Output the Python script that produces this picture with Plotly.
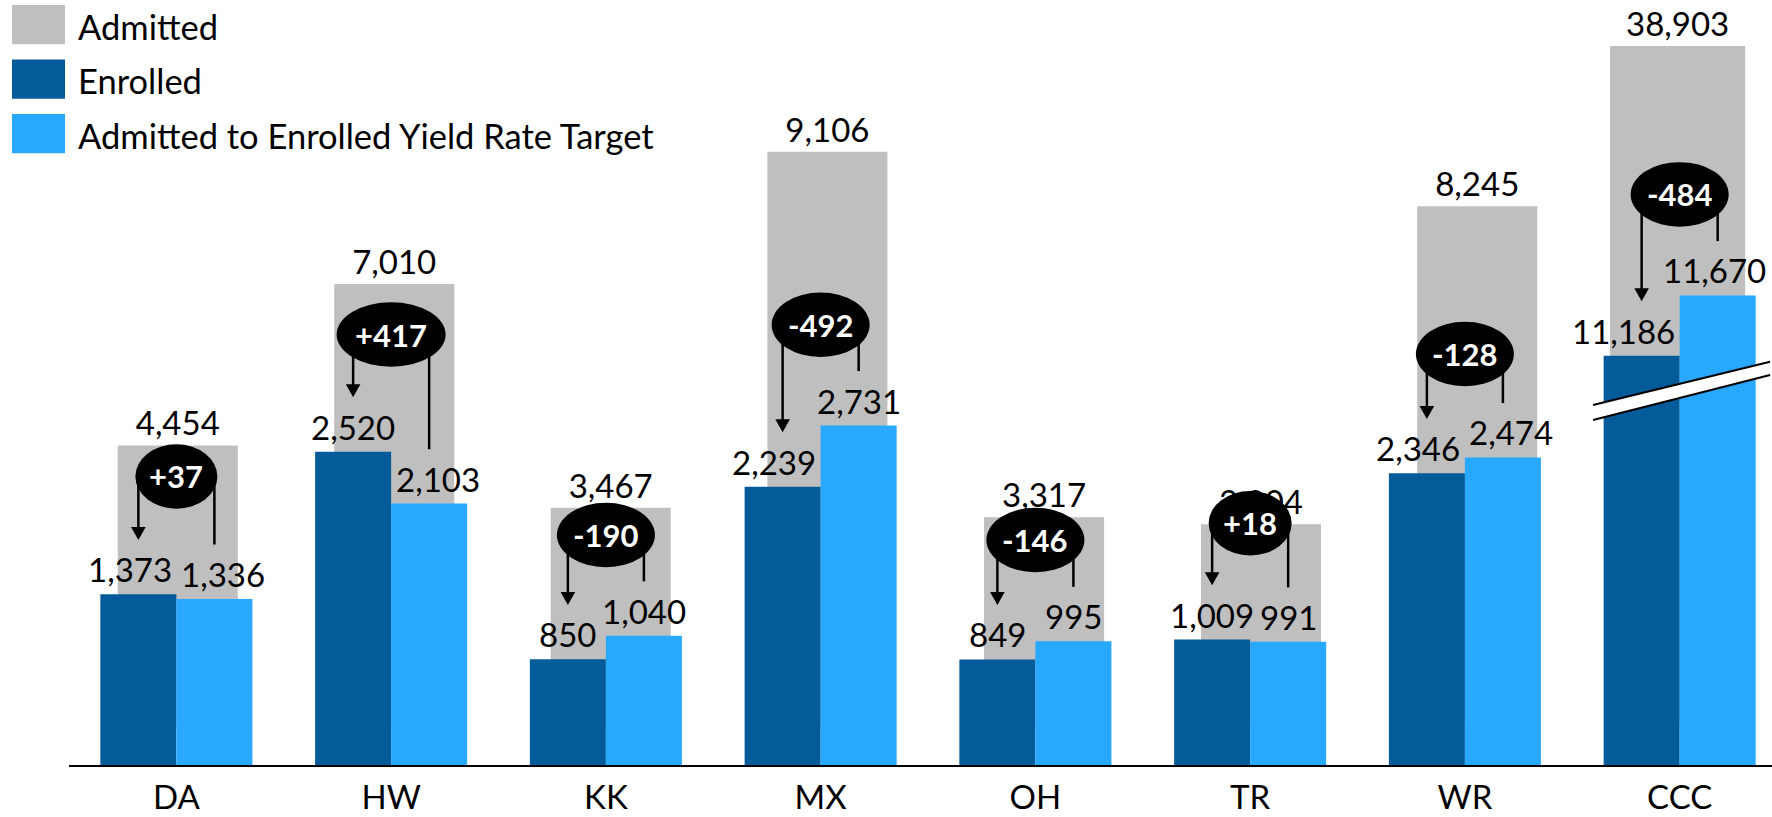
import plotly.graph_objects as go

# ---------------- data ----------------
categories = ["DA", "HW", "KK", "MX", "OH", "TR", "WR", "CCC"]
admitted = [4454, 7010, 3467, 9106, 3317, 3204, 8245, 38903]
enrolled = [1373, 2520, 850, 2239, 849, 1009, 2346, 11186]
target = [1336, 2103, 1040, 2731, 995, 991, 2474, 11670]
series_names = ["Admitted", "Enrolled", "Admitted to Enrolled Yield Rate Target"]

# broken axis on the last category (values above the cut are removed)
BREAK_IDX = 7
ENROLLED_AXIS_CUT = 7893
ADMITTED_AXIS_CUT = 28120

# ---------------- styles / layout ----------------
W, H = 1772, 817
ML, MR, MT, MB = 69, 0, 0, 52
PLOT_H = H - MT - MB
X_RANGE = [-0.5, 7.43]
Y_GRAY = [-610, 11512]
Y_BLUE = [0, 6154]
PXU_BLUE = PLOT_H / (Y_BLUE[1] - Y_BLUE[0])

C_GRAY = "#BFBFBF"
C_DARK = "#035B99"
C_LIGHT = "#29A8FF"
FONT = "Lato"
LABEL_SIZE = 33
LEGEND_SIZE = 34.5

BW = 0.354
gray_offset = [-0.273, -0.265, -0.257, -0.248, -0.239, -0.229, -0.222, -0.324]
gray_width = [0.559] * 7 + [0.629]
enr_label_dx = [-8, 0, 0, -9, 0, 0, -9, -18]
tgt_label_dx = [9, 9, 0, 0, 0, 0, 8, -3]
callout_y = [2321, 3463, 1850, 3541, 1810, 1945, 3306, 4590]
callout_w = [82, 109, 98, 98, 98, 83, 98, 98]
CALLOUT_H = 64.5
LABEL_GAP = 25
ARROW_GAP = 54.4
HEAD_LEN, HEAD_HALF = 13, 7.3


def disp(vals, cut):
    return [v - cut if i == BREAK_IDX else v for i, v in enumerate(vals)]


adm_d = disp(admitted, ADMITTED_AXIS_CUT)
enr_d = disp(enrolled, ENROLLED_AXIS_CUT)
tgt_d = disp(target, ENROLLED_AXIS_CUT)
diffs = [e - t for e, t in zip(enrolled, target)]

fig = go.Figure()
fig.add_trace(go.Bar(
    x=categories, y=adm_d, yaxis="y", name=series_names[0],
    marker=dict(color=C_GRAY, line=dict(width=0)),
    width=gray_width, offset=gray_offset,
    text=[f"{v:,}" for v in admitted], texttemplate="%{text}",
    textposition="outside", constraintext="none", cliponaxis=False,
    textfont=dict(family=FONT, size=LABEL_SIZE, color="black"),
    showlegend=False, hoverinfo="skip",
))
fig.add_trace(go.Bar(
    x=categories, y=enr_d, yaxis="y2", name=series_names[1],
    marker=dict(color=C_DARK, line=dict(width=0)),
    width=BW, offset=-BW, showlegend=False, hoverinfo="skip",
))
fig.add_trace(go.Bar(
    x=categories, y=tgt_d, yaxis="y2", name=series_names[2],
    marker=dict(color=C_LIGHT, line=dict(width=0)),
    width=BW, offset=0, showlegend=False, hoverinfo="skip",
))

shapes = []
annotations = []

for i in range(len(categories)):
    xd = i - BW / 2
    xl = i + BW / 2
    # value labels above blue bars
    annotations.append(dict(
        x=xd, y=enr_d[i], xref="x", yref="y2", text=f"{enrolled[i]:,}",
        showarrow=False, xshift=enr_label_dx[i], yshift=LABEL_GAP,
        xanchor="center", yanchor="middle",
        font=dict(family=FONT, size=LABEL_SIZE, color="black")))
    annotations.append(dict(
        x=xl, y=tgt_d[i], xref="x", yref="y2", text=f"{target[i]:,}",
        showarrow=False, xshift=tgt_label_dx[i], yshift=LABEL_GAP,
        xanchor="center", yanchor="middle",
        font=dict(family=FONT, size=LABEL_SIZE, color="black")))
    # connectors
    shapes.append(dict(
        type="line", xref="x", yref="y2", x0=xd, x1=xd,
        y0=callout_y[i], y1=enr_d[i] + (ARROW_GAP + HEAD_LEN - 1) / PXU_BLUE,
        line=dict(color="black", width=2.5), layer="above"))
    shapes.append(dict(
        type="path", xref="x", yref="y2", xsizemode="pixel", ysizemode="pixel",
        xanchor=xd, yanchor=enr_d[i],
        path=(f"M {-HEAD_HALF},{ARROW_GAP + HEAD_LEN} L {HEAD_HALF},{ARROW_GAP + HEAD_LEN} "
              f"L 0,{ARROW_GAP} Z"),
        fillcolor="black", line=dict(width=0), layer="above"))
    shapes.append(dict(
        type="line", xref="x", yref="y2", x0=xl, x1=xl,
        y0=callout_y[i], y1=tgt_d[i] + ARROW_GAP / PXU_BLUE,
        line=dict(color="black", width=2.5), layer="above"))

for i in range(len(categories)):
    shapes.append(dict(
        type="circle", xref="x", yref="y2", xsizemode="pixel", ysizemode="pixel",
        xanchor=i, yanchor=callout_y[i],
        x0=-callout_w[i] / 2, x1=callout_w[i] / 2,
        y0=-CALLOUT_H / 2, y1=CALLOUT_H / 2,
        fillcolor="black", line=dict(width=0), layer="above"))
    annotations.append(dict(
        x=i, y=callout_y[i], xref="x", yref="y2",
        text=f"<b>{diffs[i]:+d}</b>", showarrow=False,
        xanchor="center", yanchor="middle",
        font=dict(family=FONT, size=31, color="white")))

# axis-break marker on the last category
bl, br = -86.6, 90.4
shapes.append(dict(
    type="path", xref="x", yref="y2", xsizemode="pixel", ysizemode="pixel",
    xanchor=BREAK_IDX, yanchor=0,
    path=f"M {bl},360 L {br},403.3 L {br},390 L {bl},345 Z",
    fillcolor="white", line=dict(width=0), layer="above"))
for yl, yr in [(360, 403.3), (345, 390)]:
    shapes.append(dict(
        type="path", xref="x", yref="y2", xsizemode="pixel", ysizemode="pixel",
        xanchor=BREAK_IDX, yanchor=0,
        path=f"M {bl},{yl} L {br},{yr}",
        line=dict(color="black", width=2), layer="above"))

# custom legend (top-left)
legend_colors = [C_GRAY, C_DARK, C_LIGHT]
for k, (name, col) in enumerate(zip(series_names, legend_colors)):
    top = 5 + k * 54.5
    shapes.append(dict(
        type="rect", xref="paper", yref="paper", xsizemode="pixel", ysizemode="pixel",
        xanchor=0, yanchor=1, x0=12 - ML, x1=65 - ML, y0=-top, y1=-(top + 39.3),
        fillcolor=col, line=dict(width=0), layer="above"))
    annotations.append(dict(
        x=0, y=1, xref="paper", yref="paper", xshift=76 - ML, yshift=-(top + 21),
        text=name, showarrow=False, xanchor="left", yanchor="middle",
        font=dict(family=FONT, size=LEGEND_SIZE, color="black")))

fig.update_layout(
    template="none",
    width=W, height=H,
    margin=dict(l=ML, r=MR, t=MT, b=MB, pad=0, autoexpand=False),
    paper_bgcolor="white", plot_bgcolor="white",
    barmode="overlay",
    showlegend=False,
    font=dict(family=FONT, color="black"),
    xaxis=dict(type="category", range=X_RANGE, showline=True, linecolor="black",
               linewidth=2, showgrid=False, zeroline=False, ticks="",
               automargin=False, ticklabelstandoff=2,
               tickfont=dict(family=FONT, size=LABEL_SIZE, color="black")),
    yaxis=dict(range=Y_GRAY, visible=False, showgrid=False, zeroline=False,
               automargin=False),
    yaxis2=dict(range=Y_BLUE, overlaying="y", visible=False, showgrid=False,
                zeroline=False, automargin=False),
    shapes=shapes,
    annotations=annotations,
)

fig.write_html(
    "out.html",
    config={"displayModeBar": False},
    post_script=("document.body.style.margin='0';"
                 "document.documentElement.style.overflow='hidden';"),
)
